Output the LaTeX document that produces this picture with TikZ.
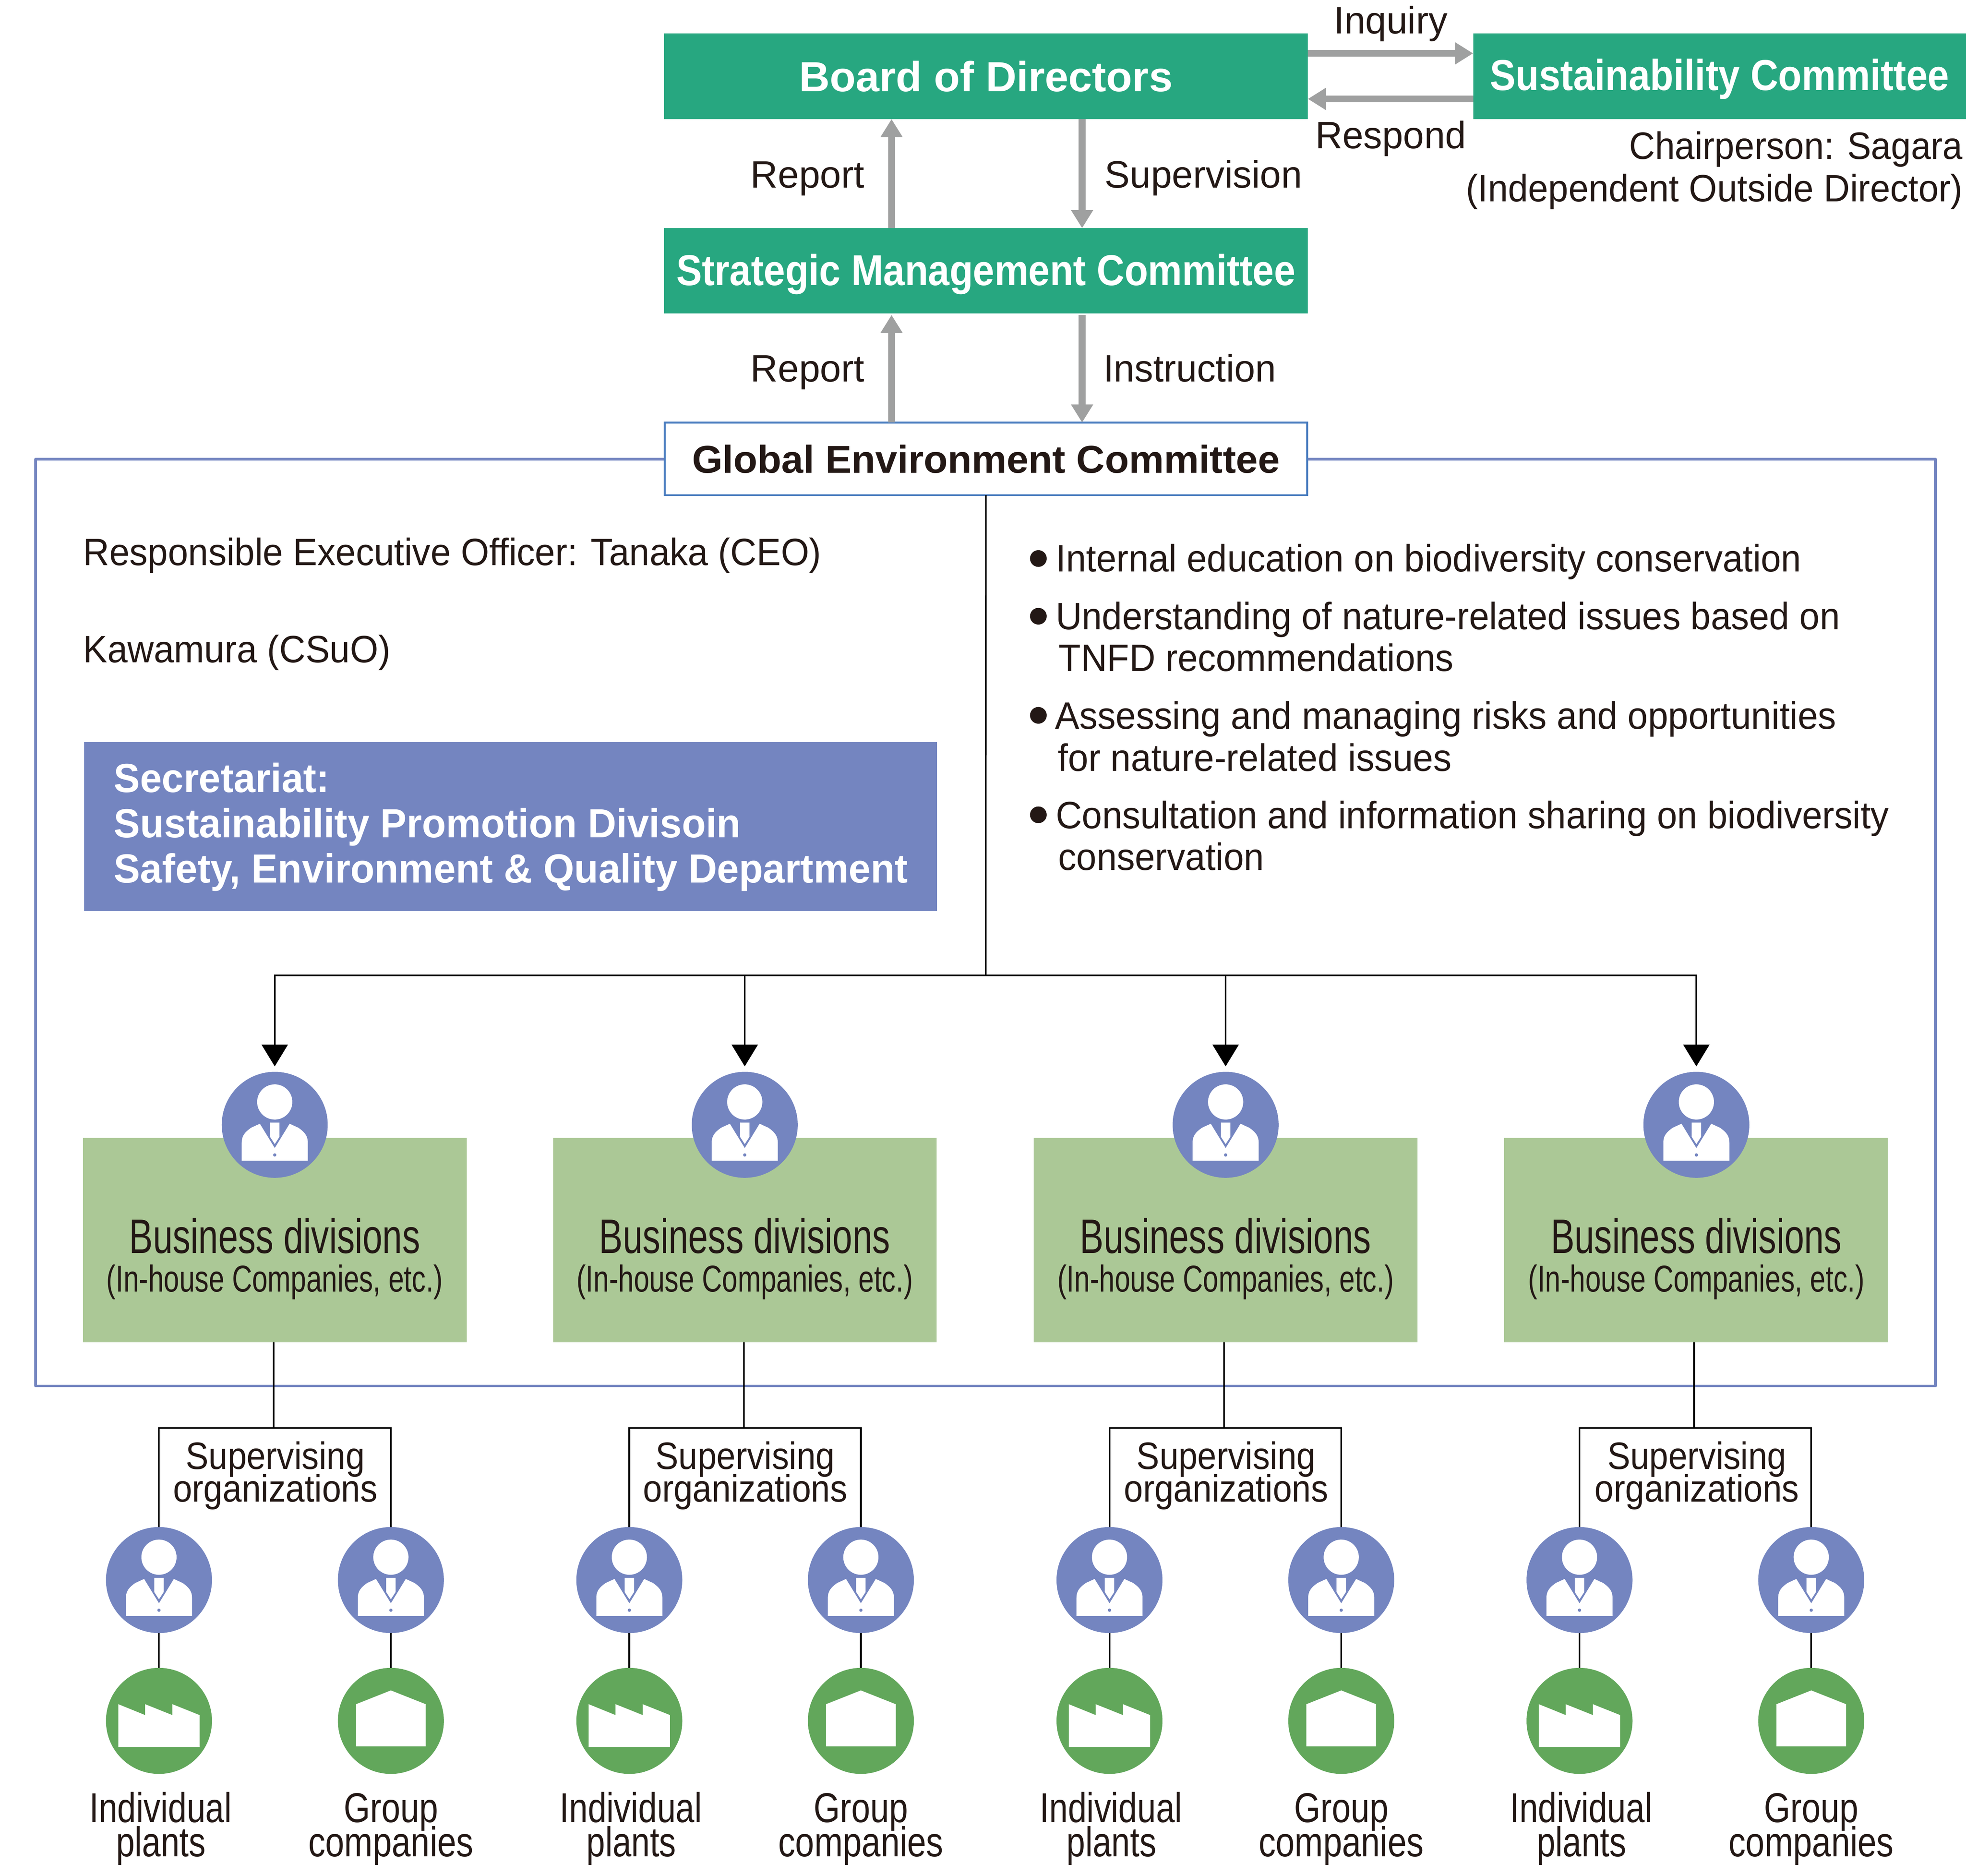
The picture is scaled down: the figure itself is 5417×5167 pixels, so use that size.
\documentclass[tikz,border=0pt]{standalone}
\usepackage{fontspec}
\usepackage{graphicx}
\setmainfont{Liberation Sans}
\usetikzlibrary{arrows.meta}
\definecolor{teal1}{HTML}{27A780}
\definecolor{blue1}{HTML}{7485C0}
\definecolor{blue2}{HTML}{4A7DBF}
\definecolor{boxgreen}{HTML}{ABC896}
\definecolor{circgreen}{HTML}{62A75B}
\definecolor{gray1}{HTML}{9FA0A0}
\definecolor{ink}{HTML}{231815}
\newcommand\fitw[3]{\resizebox{\dimexpr#1mm+0.8mm\relax}{\height}{\fontsize{#2pt}{#2pt}\selectfont #3}}
\tikzset{
  x=0.1mm,y=-0.1mm,
  lab/.style={inner sep=0pt,outer sep=0pt,text=ink,anchor=base},
  labw/.style={inner sep=0pt,outer sep=0pt,text=ink,anchor=base west,xshift=-0.6mm},
  labe/.style={inner sep=0pt,outer sep=0pt,text=ink,anchor=base east,xshift=0.2mm},
  seclab/.style={inner sep=0pt,outer sep=0pt,text=white,anchor=base west,font=\bfseries,xshift=-0.6mm},
  topbox/.style={fill=teal1,inner sep=0pt,outer sep=0pt,text=white,font=\bfseries},
  grayarrow/.style={draw=gray1,line width=1.9mm,-{Triangle[length=5mm,width=5.8mm]}},
  thinline/.style={draw=black,line width=0.45mm},
  blackarrow/.style={thinline,-{Triangle[length=6mm,width=7.2mm]}},
  divbox/.style={fill=boxgreen,inner sep=0pt,outer sep=0pt,minimum width=105.7mm,minimum height=56.3mm},
  pcirc/.style={circle,fill=blue1,inner sep=0pt,outer sep=0pt,minimum size=29.2mm},
  gcirc/.style={circle,fill=circgreen,inner sep=0pt,outer sep=0pt,minimum size=29.2mm},
  bulletdot/.style={circle,fill=ink,inner sep=0pt,outer sep=0pt,minimum size=4.6mm},
  person/.pic={
    \fill[white] (0,-63) circle[radius=4.85mm];
    \fill[white] (-91,99) -- (-91,49) .. controls (-91,30) and (-82,20) .. (-65,8) -- (-41,-3) -- (0,64) -- (41,-3) -- (65,8) .. controls (82,20) and (91,30) .. (91,49) -- (91,99) -- cycle;
    \fill[white] (-13,-6) -- (13,-6) -- (13,33) -- (0,53) -- (-13,33) -- cycle;
    \fill[blue1] (0,83) circle[radius=0.45mm];
  },
  factory/.pic={
    \fill[white] (-112,72) -- (-112,-46) -- (-38,-16) -- (-38,-46) -- (37,-16) -- (37,-46) -- (112,-16) -- (112,72) -- cycle;
  },
  warehouse/.pic={
    \fill[white] (-96,70) -- (-96,-46) -- (0,-84) -- (96,-46) -- (96,70) -- cycle;
  }
}
\begin{document}
\begin{tikzpicture}
\useasboundingbox (0,0) rectangle (5417,5167);
% frame
\draw[blue1,line width=0.7mm,line join=round] (98,1265) rectangle (5333,3818);
% top boxes
\node[topbox,minimum width=177.4mm,text height=16mm,text depth=7.6mm] (board) at (2716.5,210) {\fitw{102.1}{33}{Board of Directors}};
\node[topbox,minimum width=135.8mm,text height=15.7mm,text depth=7.9mm] (sust) at (4738,210) {\fitw{125.7}{34}{Sustainability Committee}};
\node[topbox,minimum width=177.4mm,text height=15.8mm,text depth=7.7mm] (strat) at (2716.5,746) {\fitw{169.8}{33.9}{Strategic Management Committee}};
\node[draw=blue2,line width=0.5mm,fill=white,inner sep=0pt,outer sep=0pt,minimum width=177mm,text=ink,font=\bfseries,text height=13.9mm,text depth=6.1mm] (glob) at (2716.5,1264) {\fitw{161.1}{30.4}{Global Environment Committee}};
% gray arrows
\draw[grayarrow] ([yshift=6.3mm]board.east) -- ([yshift=6.3mm]sust.west);
\draw[grayarrow] ([yshift=-6.25mm]sust.west) -- ([yshift=-6.25mm]board.east);
\draw[grayarrow] ([xshift=-26mm]strat.north) -- ([xshift=-26mm]board.south);
\draw[grayarrow] ([xshift=26.5mm]board.south) -- ([xshift=26.5mm]strat.north);
\draw[grayarrow,shorten >=0.4mm] ([xshift=-26mm]glob.north) -- ([xshift=-26mm]strat.south);
\draw[grayarrow,shorten <=0.4mm] ([xshift=26.5mm]strat.south) -- ([xshift=26.5mm]glob.north);
% top labels
\node[lab] (inq) at (3832,93) {\fitw{30.5}{29.9}{Inquiry}};
\node[lab] (resp) at (3832,409) {\fitw{40.7}{29.9}{Respond}};
\node[labe] (chair) at (5406,438) {\fitw{91.1}{29.9}{Chairperson: Sagara}};
\node[labe] (indep) at (5406,555) {\fitw{136.1}{29.9}{(Independent Outside Director)}};
\node[labw] (rep1) at (2074,517) {\fitw{30.6}{29.9}{Report}};
\node[labw] (rep2) at (2074,1051) {\fitw{30.6}{29.9}{Report}};
\node[labw] (sup) at (3050,517) {\fitw{53.6}{29.9}{Supervision}};
\node[labw] (ins) at (3046,1051) {\fitw{46.8}{29.9}{Instruction}};
\begin{scope}[yshift=-0.25mm]
% left panel
\node[labw] (resp1) at (235,1555) {\fitw{202.6}{29.9}{Responsible Executive Officer: Tanaka (CEO)}};
\node[labw] (kawa) at (235,1822) {\fitw{83.9}{29.9}{Kawamura (CSuO)}};
\node[fill=blue1,inner sep=0pt,outer sep=0pt,minimum width=235mm,minimum height=46.5mm] (sec) at (1407,2274.5) {};
\node[seclab] (sec1) at (320,2180) {\fitw{58.6}{31.9}{Secretariat:}};
\node[seclab] (sec2) at (320,2305) {\fitw{171.9}{31.9}{Sustainability Promotion Divisoin}};
\node[seclab] (sec3) at (320,2429) {\fitw{218}{31.9}{Safety, Environment \& Quality Department}};
% right panel
\foreach \n/\yy in {1/1536,2/1695,3/1968,4/2242}{
  \node[bulletdot] (dot\n) at (2861,\yy) {};
}
\node[labw] (t1) at (2915.5,1572) {\fitw{204.6}{29.9}{Internal education on biodiversity conservation}};
\node[labw] (t2) at (2915,1731) {\fitw{215.3}{29.9}{Understanding of nature-related issues based on}};
\node[labw] (t3) at (2923.5,1846) {\fitw{108}{29.9}{TNFD recommendations}};
\node[labw] (t4) at (2913,2006) {\fitw{214.5}{29.9}{Assessing and managing risks and opportunities}};
\node[labw] (t5) at (2921,2121) {\fitw{107.7}{29.9}{for nature-related issues}};
\node[labw] (t6) at (2915,2280) {\fitw{228.8}{29.9}{Consultation and information sharing on biodiversity}};
\node[labw] (t7) at (2922,2395) {\fitw{55.9}{29.9}{conservation}};
% tree
\coordinate (hub) at (2716,2684);
\draw[thinline] (glob.south) -- (hub);
\foreach \i/\c/\bx/\xa/\xb in {1/757/757.5/438/1077,2/2052/2052.5/1734/2372,3/3377/3377/3057/3695.5,4/4674/4672.5/4352/4990.5}{
  \pgfmathsetmacro{\xj}{(\xa+\xb)/2-3.5}
  \node[divbox] (b\i) at (\bx,3413.5) {};
  \node[pcirc] (p\i) at (\c,3096) {};
  \pic at (p\i) {person};
  \draw[blackarrow] (hub) -| ([yshift=1.5mm]p\i.north);
  \node[lab] (bd\i) at (\c,3450) {\fitw{79.4}{38}{Business divisions}};
  \node[lab] (ih\i) at (\c,3556) {\fitw{91.9}{29.3}{(In-house Companies, etc.)}};
  \coordinate (j\i) at (\xj,3931);
  \node[pcirc] (pa\i) at (\xa,4350) {};
  \node[pcirc] (pb\i) at (\xb,4350) {};
  \pic at (pa\i) {person};
  \pic at (pb\i) {person};
  \node[gcirc] (fa\i) at (\xa,4738) {};
  \node[gcirc] (fb\i) at (\xb,4738) {};
  \pic at (fa\i) {factory};
  \pic at (fb\i) {warehouse};
  \draw[thinline] (b\i.south -| j\i) -- (j\i);
  \draw[thinline] (pa\i.north) |- (j\i);
  \draw[thinline] (pb\i.north) |- (j\i);
  \draw[thinline] (pa\i.south) -- (fa\i.north);
  \draw[thinline] (pb\i.south) -- (fb\i.north);
  \node[lab] (so\i) at (\c+1.5,4044) {\fitw{48.5}{29.9}{Supervising}};
  \node[lab] (sp\i) at (\c+1.5,4134) {\fitw{55.5}{29.9}{organizations}};
  \node[lab] (ia\i) at (\xa+4.5,5017) {\fitw{38.4}{32.7}{Individual}};
  \node[lab] (ib\i) at (\xa+5.5,5112) {\fitw{23.9}{32.7}{plants}};
  \node[lab] (ga\i) at (\xb,5017) {\fitw{25.2}{32.7}{Group}};
  \node[lab] (gb\i) at (\xb,5112) {\fitw{44.7}{32.7}{companies}};
}
\end{scope}
\end{tikzpicture}
\end{document}
